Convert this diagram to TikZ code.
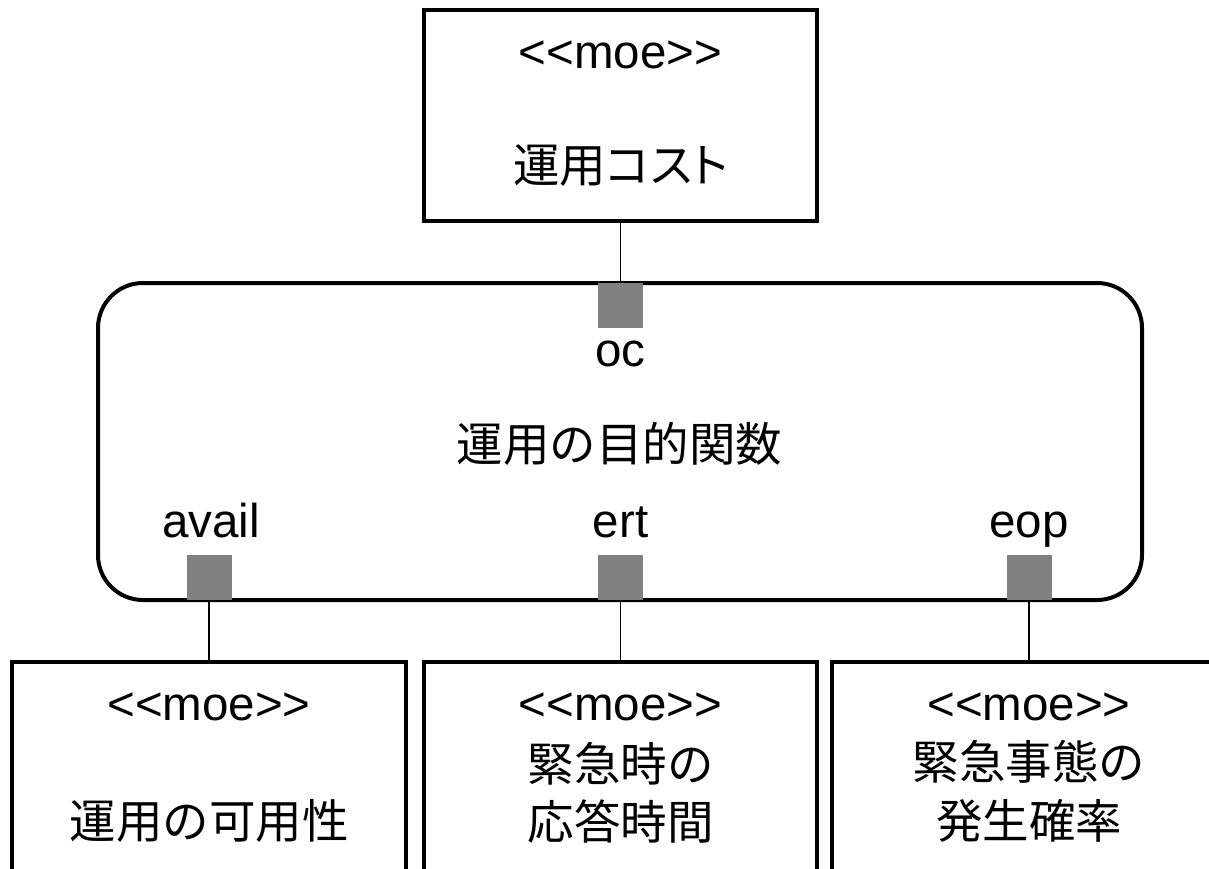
\documentclass[tikz,border=0pt]{standalone}
\usepackage{fontspec}
\setmainfont{Liberation Sans}
\newfontfamily\cjk{Noto Sans CJK JP}
\newfontfamily\cjkp[RawFeature=+palt]{Noto Sans CJK JP}
\definecolor{portgray}{HTML}{808080}
\begin{document}
\begin{tikzpicture}[x=1pt,y=-1pt,
  box/.style={draw=black,line width=4pt,fill=white,rectangle,inner sep=0pt},
  port/.style={fill=portgray,draw=none,rectangle,inner sep=0pt,minimum width=45pt,minimum height=45pt},
  link/.style={draw=black,line width=1.3pt},
  lat/.style={font=\fontsize{47.5}{54}\selectfont,inner sep=0pt},
  plabel/.style={lat,anchor=base},
  jp/.style={font=\cjk\fontsize{46.5}{54}\selectfont,inner sep=0pt},
  jpp/.style={font=\cjkp\fontsize{46.5}{54}\selectfont,inner sep=0pt}]
\clip (0,0) rectangle (1209,868);
\fill[white] (0,0) rectangle (1209,868);
% top box
\node[box,minimum width=393pt,minimum height=211pt] (top) at (620.5,115.5) {};
\node[lat] (topst) at (620.5,55) {<{}<moe>{}>};
\node[jpp] (toptx) at (620.5,166) {運用コスト};
% big rounded box
\node[box,rounded corners=45pt,minimum width=1044pt,minimum height=317pt] (big) at (620,441.5) {};
\node[port] (poc) at (620.5,305.5) {};
\node[port] (pav) at (209,577.5) {};
\node[port] (pert) at (620.5,577.5) {};
\node[port] (peop) at (1029,577.5) {};
\node[plabel] (loc) at (620.5,366) {oc};
\node[jp] (bigtx) at (619.5,444) {運用の目的関数};
\node[plabel] (lav) at (211,537) {avail};
\node[plabel] (lert) at (620.5,537) {ert};
\node[plabel] (leop) at (1029,537) {eop};
% bottom boxes
\node[box,anchor=north,minimum width=394pt,minimum height=260pt] (b1) at (209,660) {};
\node[box,anchor=north,minimum width=393pt,minimum height=260pt] (b2) at (620.5,660) {};
\node[box,anchor=north,minimum width=394pt,minimum height=260pt] (b3) at (1029,660) {};
\node[lat] (b1st) at (209,707) {<{}<moe>{}>};
\node[jp] (b1tx) at (209,821) {運用の可用性};
\node[lat] (b2st) at (620.5,707) {<{}<moe>{}>};
\node[jp] (b2tx1) at (620.5,764) {緊急時の};
\node[jp] (b2tx2) at (620.5,821) {応答時間};
\node[lat] (b3st) at (1029,707) {<{}<moe>{}>};
\node[jp] (b3tx1) at (1029,762) {緊急事態の};
\node[jp] (b3tx2) at (1029,821) {発生確率};
% connectors
\draw[link] (top.south) -- (poc.north);
\draw[link] (pav.south) -- (b1.north);
\draw[link] (pert.south) -- (b2.north);
\draw[link] (peop.south) -- (b3.north);
\end{tikzpicture}
\end{document}
